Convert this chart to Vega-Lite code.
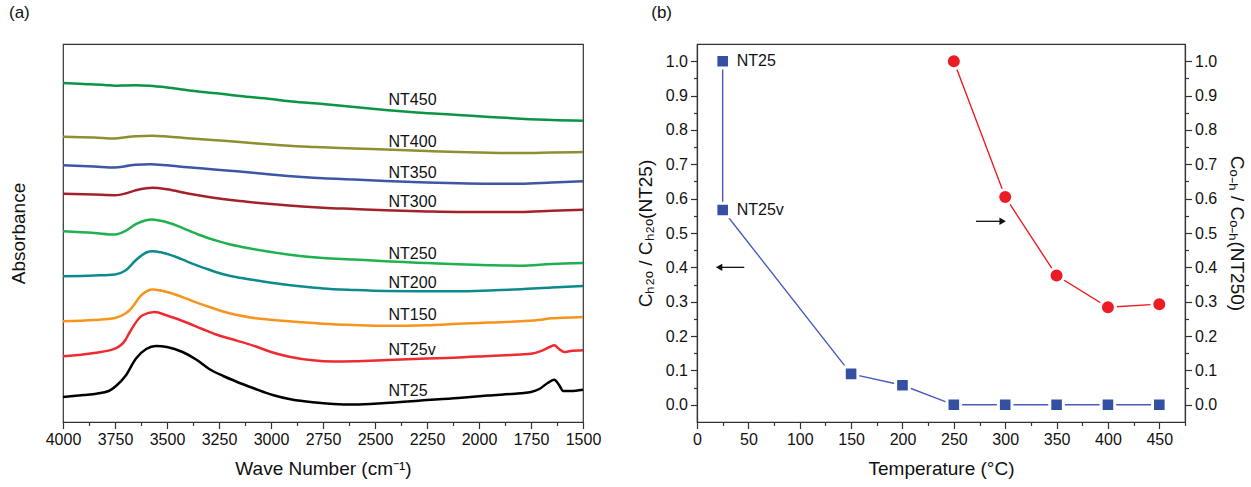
{
"$schema": "https://vega.github.io/schema/vega-lite/v6.json",
"padding": {"left": 8, "top": 3, "right": 0, "bottom": 0},
"background": "white",
"config": {
  "font": "Liberation Sans",
  "view": {"stroke": "#333333", "strokeWidth": 1.2},
  "axis": {"domainColor": "#333333", "tickColor": "#333333", "labelColor": "#111111", "labelFontSize": 16, "titleFontSize": 19, "titleFontWeight": "normal", "titleColor": "#111111", "grid": false, "labelFont": "Liberation Sans", "titleFont": "Liberation Sans", "tickWidth": 1.2, "domainWidth": 1.2, "labelOverlap": false},
  "title": {"fontSize": 17, "fontWeight": "normal", "anchor": "start", "frame": "bounds", "font": "Liberation Sans", "color": "#111111"}
},
"datasets": {
  "spectra": [
    {"sample":"NT450","wn":4000,"abs":3.39},{"sample":"NT450","wn":3900,"abs":3.38},{"sample":"NT450","wn":3800,"abs":3.37},{"sample":"NT450","wn":3750,"abs":3.362},{"sample":"NT450","wn":3700,"abs":3.366},{"sample":"NT450","wn":3650,"abs":3.368},{"sample":"NT450","wn":3585,"abs":3.362},{"sample":"NT450","wn":3500,"abs":3.345},{"sample":"NT450","wn":3393,"abs":3.315},{"sample":"NT450","wn":3250,"abs":3.285},{"sample":"NT450","wn":3150,"abs":3.26},{"sample":"NT450","wn":3000,"abs":3.23},{"sample":"NT450","wn":2900,"abs":3.205},{"sample":"NT450","wn":2750,"abs":3.18},{"sample":"NT450","wn":2600,"abs":3.15},{"sample":"NT450","wn":2450,"abs":3.12},{"sample":"NT450","wn":2300,"abs":3.095},{"sample":"NT450","wn":2100,"abs":3.07},{"sample":"NT450","wn":1950,"abs":3.05},{"sample":"NT450","wn":1800,"abs":3.033},{"sample":"NT450","wn":1650,"abs":3.02},{"sample":"NT450","wn":1500,"abs":3.013},
    {"sample":"NT400","wn":4000,"abs":2.853},{"sample":"NT400","wn":3850,"abs":2.845},{"sample":"NT400","wn":3750,"abs":2.835},{"sample":"NT400","wn":3700,"abs":2.848},{"sample":"NT400","wn":3650,"abs":2.858},{"sample":"NT400","wn":3570,"abs":2.862},{"sample":"NT400","wn":3500,"abs":2.855},{"sample":"NT400","wn":3400,"abs":2.838},{"sample":"NT400","wn":3300,"abs":2.822},{"sample":"NT400","wn":3150,"abs":2.80},{"sample":"NT400","wn":3000,"abs":2.775},{"sample":"NT400","wn":2850,"abs":2.755},{"sample":"NT400","wn":2750,"abs":2.747},{"sample":"NT400","wn":2600,"abs":2.735},{"sample":"NT400","wn":2450,"abs":2.725},{"sample":"NT400","wn":2250,"abs":2.71},{"sample":"NT400","wn":2100,"abs":2.70},{"sample":"NT400","wn":1950,"abs":2.693},{"sample":"NT400","wn":1800,"abs":2.69},{"sample":"NT400","wn":1650,"abs":2.695},{"sample":"NT400","wn":1500,"abs":2.70},
    {"sample":"NT350","wn":4000,"abs":2.567},{"sample":"NT350","wn":3850,"abs":2.555},{"sample":"NT350","wn":3750,"abs":2.545},{"sample":"NT350","wn":3700,"abs":2.558},{"sample":"NT350","wn":3650,"abs":2.573},{"sample":"NT350","wn":3580,"abs":2.578},{"sample":"NT350","wn":3500,"abs":2.567},{"sample":"NT350","wn":3400,"abs":2.547},{"sample":"NT350","wn":3300,"abs":2.53},{"sample":"NT350","wn":3150,"abs":2.505},{"sample":"NT350","wn":3000,"abs":2.475},{"sample":"NT350","wn":2850,"abs":2.45},{"sample":"NT350","wn":2750,"abs":2.437},{"sample":"NT350","wn":2600,"abs":2.425},{"sample":"NT350","wn":2450,"abs":2.41},{"sample":"NT350","wn":2250,"abs":2.395},{"sample":"NT350","wn":2100,"abs":2.387},{"sample":"NT350","wn":1950,"abs":2.383},{"sample":"NT350","wn":1800,"abs":2.383},{"sample":"NT350","wn":1650,"abs":2.395},{"sample":"NT350","wn":1500,"abs":2.407},
    {"sample":"NT300","wn":4000,"abs":2.283},{"sample":"NT300","wn":3850,"abs":2.275},{"sample":"NT300","wn":3750,"abs":2.268},{"sample":"NT300","wn":3700,"abs":2.285},{"sample":"NT300","wn":3650,"abs":2.318},{"sample":"NT300","wn":3600,"abs":2.338},{"sample":"NT300","wn":3570,"abs":2.342},{"sample":"NT300","wn":3500,"abs":2.327},{"sample":"NT300","wn":3400,"abs":2.285},{"sample":"NT300","wn":3300,"abs":2.25},{"sample":"NT300","wn":3150,"abs":2.21},{"sample":"NT300","wn":3000,"abs":2.18},{"sample":"NT300","wn":2850,"abs":2.155},{"sample":"NT300","wn":2750,"abs":2.143},{"sample":"NT300","wn":2600,"abs":2.13},{"sample":"NT300","wn":2450,"abs":2.117},{"sample":"NT300","wn":2250,"abs":2.105},{"sample":"NT300","wn":2100,"abs":2.10},{"sample":"NT300","wn":1800,"abs":2.10},{"sample":"NT300","wn":1650,"abs":2.112},{"sample":"NT300","wn":1500,"abs":2.123},
    {"sample":"NT250","wn":4000,"abs":1.907},{"sample":"NT250","wn":3850,"abs":1.89},{"sample":"NT250","wn":3750,"abs":1.875},{"sample":"NT250","wn":3700,"abs":1.91},{"sample":"NT250","wn":3650,"abs":1.978},{"sample":"NT250","wn":3600,"abs":2.018},{"sample":"NT250","wn":3577,"abs":2.025},{"sample":"NT250","wn":3530,"abs":2.012},{"sample":"NT250","wn":3450,"abs":1.962},{"sample":"NT250","wn":3400,"abs":1.918},{"sample":"NT250","wn":3350,"abs":1.875},{"sample":"NT250","wn":3300,"abs":1.838},{"sample":"NT250","wn":3250,"abs":1.806},{"sample":"NT250","wn":3200,"abs":1.778},{"sample":"NT250","wn":3100,"abs":1.735},{"sample":"NT250","wn":3000,"abs":1.70},{"sample":"NT250","wn":2900,"abs":1.67},{"sample":"NT250","wn":2750,"abs":1.64},{"sample":"NT250","wn":2600,"abs":1.625},{"sample":"NT250","wn":2450,"abs":1.607},{"sample":"NT250","wn":2250,"abs":1.59},{"sample":"NT250","wn":2100,"abs":1.577},{"sample":"NT250","wn":1950,"abs":1.568},{"sample":"NT250","wn":1800,"abs":1.563},{"sample":"NT250","wn":1650,"abs":1.58},{"sample":"NT250","wn":1500,"abs":1.59},
    {"sample":"NT200","wn":4000,"abs":1.457},{"sample":"NT200","wn":3850,"abs":1.465},{"sample":"NT200","wn":3750,"abs":1.475},{"sample":"NT200","wn":3700,"abs":1.515},{"sample":"NT200","wn":3650,"abs":1.618},{"sample":"NT200","wn":3600,"abs":1.695},{"sample":"NT200","wn":3570,"abs":1.708},{"sample":"NT200","wn":3530,"abs":1.697},{"sample":"NT200","wn":3450,"abs":1.645},{"sample":"NT200","wn":3400,"abs":1.602},{"sample":"NT200","wn":3350,"abs":1.562},{"sample":"NT200","wn":3300,"abs":1.525},{"sample":"NT200","wn":3250,"abs":1.49},{"sample":"NT200","wn":3200,"abs":1.462},{"sample":"NT200","wn":3150,"abs":1.442},{"sample":"NT200","wn":3100,"abs":1.425},{"sample":"NT200","wn":3000,"abs":1.392},{"sample":"NT200","wn":2850,"abs":1.355},{"sample":"NT200","wn":2750,"abs":1.335},{"sample":"NT200","wn":2600,"abs":1.32},{"sample":"NT200","wn":2450,"abs":1.31},{"sample":"NT200","wn":2250,"abs":1.307},{"sample":"NT200","wn":2100,"abs":1.307},{"sample":"NT200","wn":1950,"abs":1.315},{"sample":"NT200","wn":1800,"abs":1.327},{"sample":"NT200","wn":1650,"abs":1.345},{"sample":"NT200","wn":1500,"abs":1.36},
    {"sample":"NT150","wn":4000,"abs":1.007},{"sample":"NT150","wn":3850,"abs":1.02},{"sample":"NT150","wn":3750,"abs":1.04},{"sample":"NT150","wn":3700,"abs":1.085},{"sample":"NT150","wn":3680,"abs":1.117},{"sample":"NT150","wn":3620,"abs":1.275},{"sample":"NT150","wn":3570,"abs":1.325},{"sample":"NT150","wn":3530,"abs":1.315},{"sample":"NT150","wn":3450,"abs":1.268},{"sample":"NT150","wn":3400,"abs":1.228},{"sample":"NT150","wn":3350,"abs":1.188},{"sample":"NT150","wn":3300,"abs":1.152},{"sample":"NT150","wn":3250,"abs":1.118},{"sample":"NT150","wn":3200,"abs":1.088},{"sample":"NT150","wn":3150,"abs":1.064},{"sample":"NT150","wn":3100,"abs":1.046},{"sample":"NT150","wn":3000,"abs":1.022},{"sample":"NT150","wn":2850,"abs":0.997},{"sample":"NT150","wn":2750,"abs":0.983},{"sample":"NT150","wn":2600,"abs":0.97},{"sample":"NT150","wn":2450,"abs":0.962},{"sample":"NT150","wn":2250,"abs":0.967},{"sample":"NT150","wn":2100,"abs":0.983},{"sample":"NT150","wn":1950,"abs":0.995},{"sample":"NT150","wn":1800,"abs":1.007},{"sample":"NT150","wn":1700,"abs":1.023},{"sample":"NT150","wn":1650,"abs":1.038},{"sample":"NT150","wn":1600,"abs":1.042},{"sample":"NT150","wn":1500,"abs":1.05},
    {"sample":"NT25v","wn":4000,"abs":0.657},{"sample":"NT25v","wn":3850,"abs":0.69},{"sample":"NT25v","wn":3750,"abs":0.733},{"sample":"NT25v","wn":3700,"abs":0.82},{"sample":"NT25v","wn":3680,"abs":0.895},{"sample":"NT25v","wn":3620,"abs":1.065},{"sample":"NT25v","wn":3560,"abs":1.10},{"sample":"NT25v","wn":3500,"abs":1.065},{"sample":"NT25v","wn":3400,"abs":0.99},{"sample":"NT25v","wn":3330,"abs":0.93},{"sample":"NT25v","wn":3264,"abs":0.875},{"sample":"NT25v","wn":3200,"abs":0.835},{"sample":"NT25v","wn":3072,"abs":0.755},{"sample":"NT25v","wn":3000,"abs":0.70},{"sample":"NT25v","wn":2912,"abs":0.653},{"sample":"NT25v","wn":2800,"abs":0.617},{"sample":"NT25v","wn":2700,"abs":0.605},{"sample":"NT25v","wn":2600,"abs":0.607},{"sample":"NT25v","wn":2440,"abs":0.62},{"sample":"NT25v","wn":2250,"abs":0.635},{"sample":"NT25v","wn":2120,"abs":0.643},{"sample":"NT25v","wn":1950,"abs":0.66},{"sample":"NT25v","wn":1800,"abs":0.675},{"sample":"NT25v","wn":1750,"abs":0.682},{"sample":"NT25v","wn":1700,"abs":0.712},{"sample":"NT25v","wn":1660,"abs":0.75},{"sample":"NT25v","wn":1638,"abs":0.767},{"sample":"NT25v","wn":1615,"abs":0.73},{"sample":"NT25v","wn":1590,"abs":0.70},{"sample":"NT25v","wn":1560,"abs":0.71},{"sample":"NT25v","wn":1500,"abs":0.717},
    {"sample":"NT25","wn":4000,"abs":0.25},{"sample":"NT25","wn":3900,"abs":0.27},{"sample":"NT25","wn":3840,"abs":0.283},{"sample":"NT25","wn":3780,"abs":0.31},{"sample":"NT25","wn":3745,"abs":0.36},{"sample":"NT25","wn":3700,"abs":0.46},{"sample":"NT25","wn":3650,"abs":0.633},{"sample":"NT25","wn":3600,"abs":0.73},{"sample":"NT25","wn":3553,"abs":0.76},{"sample":"NT25","wn":3500,"abs":0.75},{"sample":"NT25","wn":3425,"abs":0.70},{"sample":"NT25","wn":3360,"abs":0.625},{"sample":"NT25","wn":3297,"abs":0.53},{"sample":"NT25","wn":3230,"abs":0.46},{"sample":"NT25","wn":3168,"abs":0.405},{"sample":"NT25","wn":3080,"abs":0.335},{"sample":"NT25","wn":2992,"abs":0.27},{"sample":"NT25","wn":2900,"abs":0.225},{"sample":"NT25","wn":2800,"abs":0.197},{"sample":"NT25","wn":2700,"abs":0.18},{"sample":"NT25","wn":2600,"abs":0.175},{"sample":"NT25","wn":2450,"abs":0.19},{"sample":"NT25","wn":2280,"abs":0.215},{"sample":"NT25","wn":2100,"abs":0.24},{"sample":"NT25","wn":1958,"abs":0.265},{"sample":"NT25","wn":1800,"abs":0.288},{"sample":"NT25","wn":1750,"abs":0.30},{"sample":"NT25","wn":1710,"abs":0.33},{"sample":"NT25","wn":1670,"abs":0.39},{"sample":"NT25","wn":1638,"abs":0.423},{"sample":"NT25","wn":1615,"abs":0.37},{"sample":"NT25","wn":1595,"abs":0.31},{"sample":"NT25","wn":1560,"abs":0.31},{"sample":"NT25","wn":1500,"abs":0.323}
  ],
  "specLabels": [
    {"sample":"NT450","wn":2435,"abs":3.22},
    {"sample":"NT400","wn":2435,"abs":2.80},
    {"sample":"NT350","wn":2435,"abs":2.49},
    {"sample":"NT300","wn":2435,"abs":2.20},
    {"sample":"NT250","wn":2435,"abs":1.68},
    {"sample":"NT200","wn":2435,"abs":1.39},
    {"sample":"NT150","wn":2435,"abs":1.07},
    {"sample":"NT25v","wn":2435,"abs":0.72},
    {"sample":"NT25","wn":2435,"abs":0.31}
  ],
  "blue": [
    {"i":1,"T":25,"v":1.0,"label":"NT25"},
    {"i":2,"T":25,"v":0.567,"label":"NT25v"},
    {"i":3,"T":150,"v":0.09},
    {"i":4,"T":200,"v":0.057},
    {"i":5,"T":250,"v":0},
    {"i":6,"T":300,"v":0},
    {"i":7,"T":350,"v":0},
    {"i":8,"T":400,"v":0},
    {"i":9,"T":450,"v":0}
  ],
  "red": [
    {"T":250,"v":1.0},
    {"T":300,"v":0.605},
    {"T":350,"v":0.376},
    {"T":400,"v":0.284},
    {"T":450,"v":0.293}
  ],
  "arrows": [
    {"dir":"left","T1":21.5,"T2":46,"v":0.40},
    {"dir":"right","T1":271.5,"T2":297.5,"v":0.534}
  ]
},
"hconcat": [
  {
    "title": {"text": "(a)", "offset": 22},
    "width": 520, "height": 378,
    "layer": [
      {
        "data": {"name": "spectra"},
        "mark": {"type": "line", "strokeWidth": 2.5, "interpolate": "monotone"},
        "encoding": {
          "x": {"field": "wn", "type": "quantitative", "title": "Wave Number (cm⁻¹)",
                "scale": {"domain": [1500, 4000], "reverse": true, "nice": false, "zero": false},
                "axis": {"values": [4000,3875,3750,3625,3500,3375,3250,3125,3000,2875,2750,2625,2500,2375,2250,2125,2000,1875,1750,1625,1500],
                         "tickCount": 100,
                         "format": "d", "labelOverlap": false,
                         "labelExpr": "datum.value % 250 === 0 ? datum.label : ''",
                         "tickSize": {"condition": {"test": "datum.value % 250 === 0", "value": 6.5}, "value": 3.5},
                         "labelPadding": 3, "titlePadding": 12, "labelFlush": false}},
          "y": {"field": "abs", "type": "quantitative",
                "scale": {"domain": [0, 3.78], "nice": false, "zero": false},
                "axis": {"labels": false, "ticks": false, "domain": false, "title": "Absorbance", "titlePadding": 35}},
          "color": {"field": "sample", "type": "nominal", "legend": null,
                    "scale": {"domain": ["NT450","NT400","NT350","NT300","NT250","NT200","NT150","NT25v","NT25"],
                              "range": ["#0b9444","#8f8f30","#3d56a6","#a3222a","#1fb14e","#0f8a8c","#f7941d","#ee2b30","#000000"]}},
          "order": {"field": "wn", "sort": "descending"}
        }
      },
      {
        "data": {"name": "specLabels"},
        "mark": {"type": "text", "align": "left", "baseline": "middle", "fontSize": 16, "color": "#111111", "font": "Liberation Sans"},
        "encoding": {
          "x": {"field": "wn", "type": "quantitative"},
          "y": {"field": "abs", "type": "quantitative"},
          "text": {"field": "sample"}
        }
      }
    ]
  },
  {
    "title": {"text": "(b)", "offset": 22, "dx": 15},
    "width": 488, "height": 378,
    "layer": [
      {
        "layer": [
          {
            "data": {"name": "blue"},
            "mark": {"type": "line", "color": "#4a5bbd", "strokeWidth": 1.4},
            "encoding": {
              "x": {"field": "T", "type": "quantitative", "title": "Temperature (°C)",
                    "scale": {"domain": [0, 475], "nice": false, "zero": false},
                    "axis": {"values": [0,25,50,75,100,125,150,175,200,225,250,275,300,325,350,375,400,425,450,475],
                             "tickCount": 100, "labelOverlap": false,
                             "labelExpr": "datum.value % 50 === 0 ? datum.label : ''",
                             "tickSize": {"condition": {"test": "datum.value % 50 === 0", "value": 6.5}, "value": 3.5},
                             "labelPadding": 3, "titlePadding": 12, "labelFlush": false}},
              "y": {"field": "v", "type": "quantitative", "title": "Cₕ₂ₒ / Cₕ₂ₒ(NT25)",
                    "scale": {"domain": [-0.05, 1.05], "nice": false, "zero": false},
                    "axis": {"orient": "left", "values": [0,0.05,0.1,0.15,0.2,0.25,0.3,0.35,0.4,0.45,0.5,0.55,0.6,0.65,0.7,0.75,0.8,0.85,0.9,0.95,1.0],
                             "tickCount": 100,
                             "format": ".1f", "labelOverlap": false,
                             "labelExpr": "round(datum.value*100) % 10 === 0 ? datum.label : ''",
                             "tickSize": {"condition": {"test": "round(datum.value*100) % 10 === 0", "value": 6.5}, "value": 3.5},
                             "labelPadding": 3, "titlePadding": 10}},
              "order": {"field": "i"}
            }
          },
          {
            "data": {"name": "blue"},
            "mark": {"type": "point", "shape": "square", "filled": true, "size": 185, "color": "#3450a2", "stroke": "white", "strokeWidth": 3, "opacity": 1},
            "encoding": {
              "x": {"field": "T", "type": "quantitative"},
              "y": {"field": "v", "type": "quantitative"}
            }
          },
          {
            "data": {"name": "blue"},
            "transform": [{"filter": "isValid(datum.label)"}],
            "mark": {"type": "text", "align": "left", "baseline": "middle", "dx": 14, "fontSize": 16, "color": "#111111", "font": "Liberation Sans"},
            "encoding": {
              "x": {"field": "T", "type": "quantitative"},
              "y": {"field": "v", "type": "quantitative"},
              "text": {"field": "label"}
            }
          },
          {
            "data": {"name": "arrows"},
            "transform": [{"filter": "datum.dir === 'left'"}],
            "mark": {"type": "rule", "color": "#111111", "strokeWidth": 1.3},
            "encoding": {
              "x": {"field": "T1", "type": "quantitative"},
              "x2": {"field": "T2"},
              "y": {"field": "v", "type": "quantitative"}
            }
          },
          {
            "data": {"name": "arrows"},
            "transform": [{"filter": "datum.dir === 'left'"}],
            "mark": {"type": "point", "shape": "triangle-left", "filled": true, "size": 55, "color": "#111111", "opacity": 1},
            "encoding": {
              "x": {"field": "T1", "type": "quantitative"},
              "y": {"field": "v", "type": "quantitative"}
            }
          }
        ]
      },
      {
        "layer": [
          {
            "data": {"name": "red"},
            "mark": {"type": "line", "color": "#ec1c24", "strokeWidth": 1.4},
            "encoding": {
              "x": {"field": "T", "type": "quantitative"},
              "y": {"field": "v", "type": "quantitative", "title": "Cₒ₋ₕ / Cₒ₋ₕ(NT250)",
                    "scale": {"domain": [-0.05, 1.05], "nice": false, "zero": false},
                    "axis": {"orient": "right", "values": [0,0.05,0.1,0.15,0.2,0.25,0.3,0.35,0.4,0.45,0.5,0.55,0.6,0.65,0.7,0.75,0.8,0.85,0.9,0.95,1.0],
                             "tickCount": 100,
                             "format": ".1f", "labelOverlap": false,
                             "labelExpr": "round(datum.value*100) % 10 === 0 ? datum.label : ''",
                             "tickSize": {"condition": {"test": "round(datum.value*100) % 10 === 0", "value": 6.5}, "value": 3.5},
                             "labelPadding": 3, "titlePadding": 10}}
            }
          },
          {
            "data": {"name": "red"},
            "mark": {"type": "point", "shape": "circle", "filled": true, "size": 225, "color": "#ec1c24", "stroke": "white", "strokeWidth": 3, "opacity": 1},
            "encoding": {
              "x": {"field": "T", "type": "quantitative"},
              "y": {"field": "v", "type": "quantitative"}
            }
          },
          {
            "data": {"name": "arrows"},
            "transform": [{"filter": "datum.dir === 'right'"}],
            "mark": {"type": "rule", "color": "#111111", "strokeWidth": 1.3},
            "encoding": {
              "x": {"field": "T1", "type": "quantitative"},
              "x2": {"field": "T2"},
              "y": {"field": "v", "type": "quantitative"}
            }
          },
          {
            "data": {"name": "arrows"},
            "transform": [{"filter": "datum.dir === 'right'"}],
            "mark": {"type": "point", "shape": "triangle-right", "filled": true, "size": 55, "color": "#111111", "opacity": 1},
            "encoding": {
              "x": {"field": "T2", "type": "quantitative"},
              "y": {"field": "v", "type": "quantitative"}
            }
          }
        ]
      }
    ],
    "resolve": {"scale": {"y": "independent"}}
  }
],
"spacing": 33
}
